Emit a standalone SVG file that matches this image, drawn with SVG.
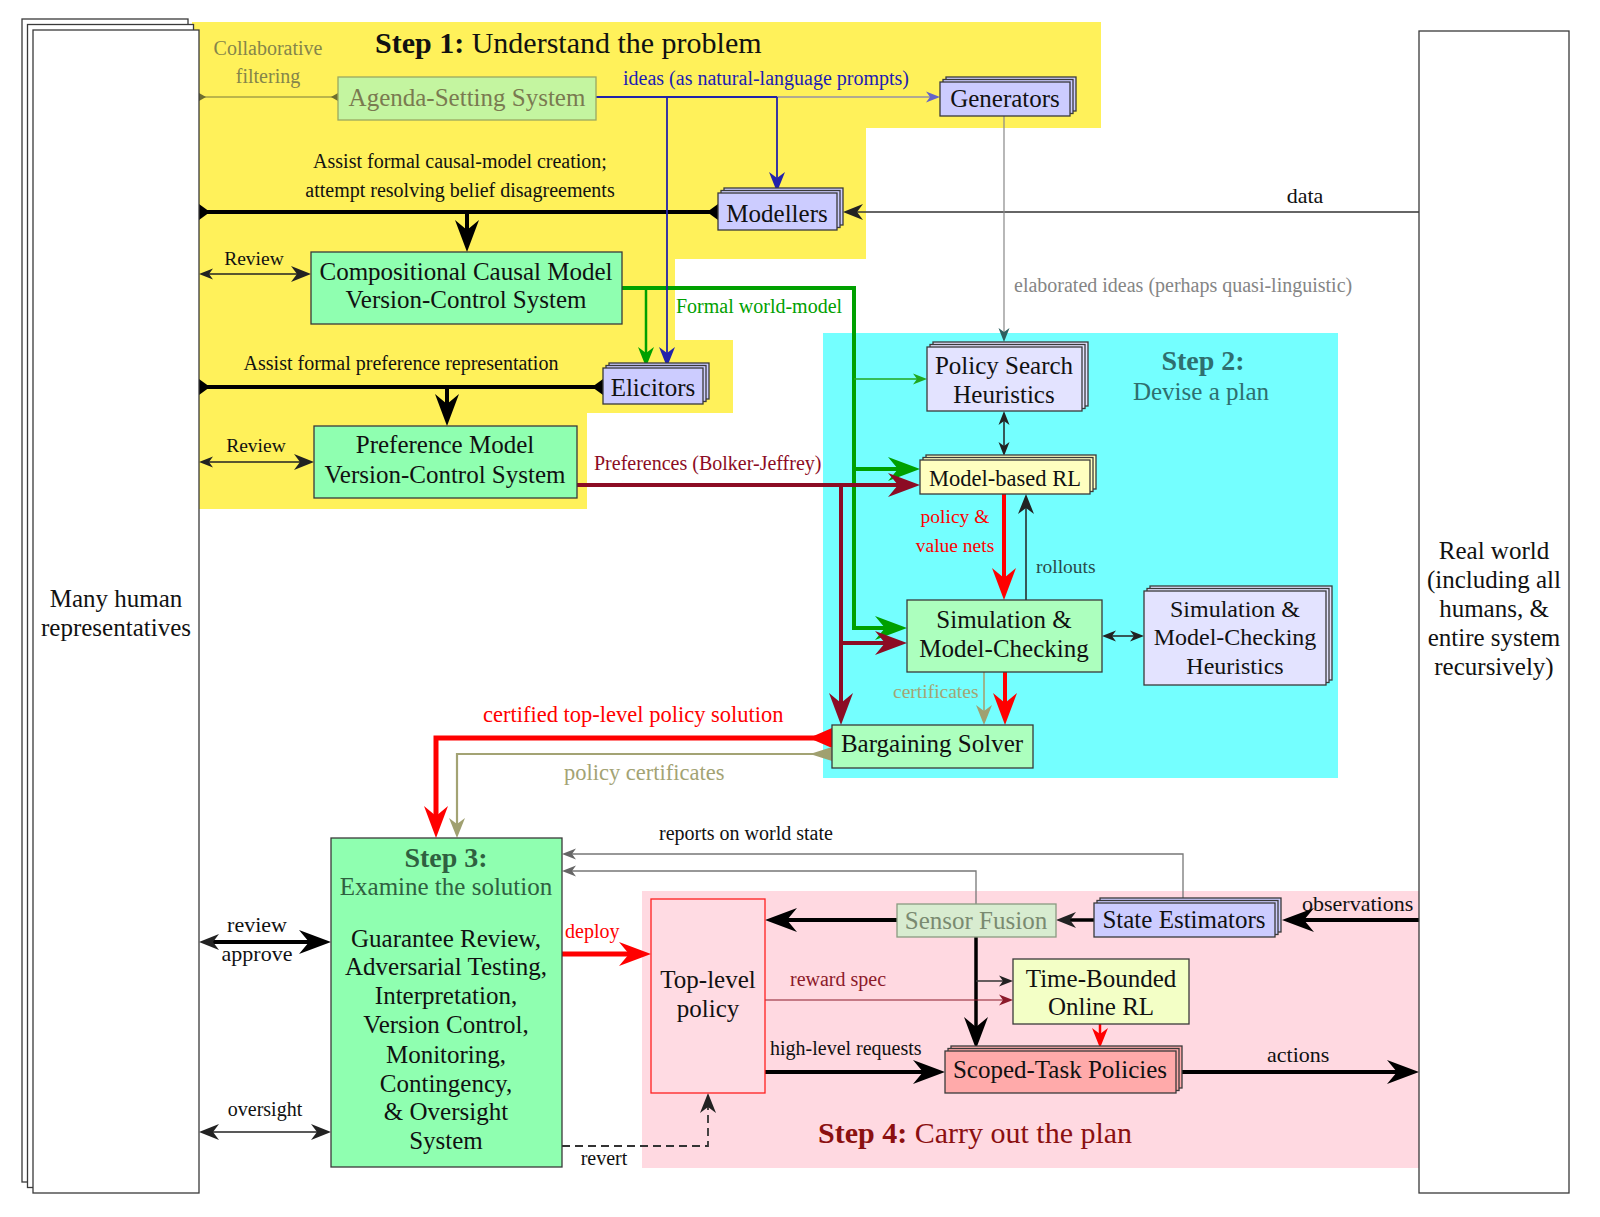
<svg xmlns="http://www.w3.org/2000/svg" width="1600" height="1217" viewBox="0 0 1600 1217">
<style>
text{font-family:"Liberation Serif","Times New Roman",serif;fill:#111}
.c{text-anchor:middle}
.b{font-weight:bold}
.f19{font-size:19.5px}.f20{font-size:20px}.f22{font-size:22px}.f225{font-size:22.5px}.f24{font-size:24px}.f25{font-size:25px}.f28{font-size:28px}.f30{font-size:30px}
.box{stroke:#3a3a3a;stroke-width:1.3}
.wh{fill:#fff}.lav{fill:#ccccff}.lav2{fill:#e3e3ff}.mint{fill:#8fffb0}.mint2{fill:#acffbe}.yel{fill:#ffffc0}.tb{fill:#f3ffc6}.sal{fill:#ffaaaa}
.ln{fill:none}
.k4{stroke:#000;stroke-width:4}
.k1{stroke:#222;stroke-width:1.5}
</style>
<defs>
<marker id="bigK" markerUnits="userSpaceOnUse" viewBox="-40 -20 80 40" markerWidth="80" markerHeight="40" refX="0" refY="0" orient="auto-start-reverse" overflow="visible"><path d="M22,0 L-10,-12 L0,0 L-10,12 Z" fill="#000"/></marker>
<marker id="bigR" markerUnits="userSpaceOnUse" viewBox="-40 -20 80 40" markerWidth="80" markerHeight="40" refX="0" refY="0" orient="auto-start-reverse" overflow="visible"><path d="M22,0 L-10,-12 L0,0 L-10,12 Z" fill="#ff0000"/></marker>
<marker id="bigD" markerUnits="userSpaceOnUse" viewBox="-40 -20 80 40" markerWidth="80" markerHeight="40" refX="0" refY="0" orient="auto-start-reverse" overflow="visible"><path d="M22,0 L-10,-12 L0,0 L-10,12 Z" fill="#8c0c24"/></marker>
<marker id="bigG" markerUnits="userSpaceOnUse" viewBox="-40 -20 80 40" markerWidth="80" markerHeight="40" refX="0" refY="0" orient="auto-start-reverse" overflow="visible"><path d="M22,0 L-10,-12 L0,0 L-10,12 Z" fill="#00a000"/></marker>
<marker id="medK" markerUnits="userSpaceOnUse" viewBox="-40 -20 80 40" markerWidth="80" markerHeight="40" refX="0" refY="0" orient="auto-start-reverse" overflow="visible"><path d="M14,0 L-6,-8 L0,0 L-6,8 Z" fill="#222"/></marker>
<marker id="medB" markerUnits="userSpaceOnUse" viewBox="-40 -20 80 40" markerWidth="80" markerHeight="40" refX="0" refY="0" orient="auto-start-reverse" overflow="visible"><path d="M14,0 L-6,-8 L0,0 L-6,8 Z" fill="#2222aa"/></marker>
<marker id="medG" markerUnits="userSpaceOnUse" viewBox="-40 -20 80 40" markerWidth="80" markerHeight="40" refX="0" refY="0" orient="auto-start-reverse" overflow="visible"><path d="M14,0 L-6,-8 L0,0 L-6,8 Z" fill="#00a000"/></marker>
<marker id="medO" markerUnits="userSpaceOnUse" viewBox="-40 -20 80 40" markerWidth="80" markerHeight="40" refX="0" refY="0" orient="auto-start-reverse" overflow="visible"><path d="M14,0 L-6,-8 L0,0 L-6,8 Z" fill="#a0a070"/></marker>
<marker id="medR" markerUnits="userSpaceOnUse" viewBox="-40 -20 80 40" markerWidth="80" markerHeight="40" refX="0" refY="0" orient="auto-start-reverse" overflow="visible"><path d="M14,0 L-6,-8 L0,0 L-6,8 Z" fill="#ff0000"/></marker>
<marker id="smK" markerUnits="userSpaceOnUse" viewBox="-40 -20 80 40" markerWidth="80" markerHeight="40" refX="0" refY="0" orient="auto-start-reverse" overflow="visible"><path d="M10,0 L-4,-5.5 L0,0 L-4,5.5 Z" fill="#222"/></marker>
<marker id="smB" markerUnits="userSpaceOnUse" viewBox="-40 -20 80 40" markerWidth="80" markerHeight="40" refX="0" refY="0" orient="auto-start-reverse" overflow="visible"><path d="M10,0 L-4,-5.5 L0,0 L-4,5.5 Z" fill="#6464c8"/></marker>
<marker id="smG" markerUnits="userSpaceOnUse" viewBox="-40 -20 80 40" markerWidth="80" markerHeight="40" refX="0" refY="0" orient="auto-start-reverse" overflow="visible"><path d="M10,0 L-4,-5.5 L0,0 L-4,5.5 Z" fill="#20a820"/></marker>
<marker id="smT" markerUnits="userSpaceOnUse" viewBox="-40 -20 80 40" markerWidth="80" markerHeight="40" refX="0" refY="0" orient="auto-start-reverse" overflow="visible"><path d="M10,0 L-4,-5.5 L0,0 L-4,5.5 Z" fill="#2d6060"/></marker>
<marker id="smD" markerUnits="userSpaceOnUse" viewBox="-40 -20 80 40" markerWidth="80" markerHeight="40" refX="0" refY="0" orient="auto-start-reverse" overflow="visible"><path d="M10,0 L-4,-5.5 L0,0 L-4,5.5 Z" fill="#8c1a2a"/></marker>
<marker id="smGr" markerUnits="userSpaceOnUse" viewBox="-40 -20 80 40" markerWidth="80" markerHeight="40" refX="0" refY="0" orient="auto-start-reverse" overflow="visible"><path d="M10,0 L-4,-5.5 L0,0 L-4,5.5 Z" fill="#666"/></marker>
<marker id="revK" markerUnits="userSpaceOnUse" viewBox="-40 -20 80 40" markerWidth="80" markerHeight="40" refX="0" refY="0" orient="auto-start-reverse" overflow="visible"><path d="M0,-8 L0,8 L-11,0 Z" fill="#000"/></marker>
<marker id="revR" markerUnits="userSpaceOnUse" viewBox="-40 -20 80 40" markerWidth="80" markerHeight="40" refX="0" refY="0" orient="auto-start-reverse" overflow="visible"><path d="M0,-10 L0,10 L-23,0 Z" fill="#ff0000"/></marker>
<marker id="revO" markerUnits="userSpaceOnUse" viewBox="-40 -20 80 40" markerWidth="80" markerHeight="40" refX="0" refY="0" orient="auto-start-reverse" overflow="visible"><path d="M0,-7 L0,7 L-22,0 Z" fill="#a0a070"/></marker>
<marker id="revOl" markerUnits="userSpaceOnUse" viewBox="-40 -20 80 40" markerWidth="80" markerHeight="40" refX="0" refY="0" orient="auto-start-reverse" overflow="visible"><path d="M0,-4 L0,4 L-7,0 Z" fill="#6e6e30"/></marker>
</defs>

<g id="regions">
<path id="step1-region" d="M192,22 H1101 V128 H866 V259 H675 V340 H733 V413 H587 V509 H192 Z" fill="#fff15a"/>
<rect id="step2-region" x="823" y="333" width="515" height="445" fill="#74ffff"/>
<rect id="step4-region" x="642" y="891" width="777" height="277" fill="#ffd9e1"/>
</g>

<g id="connectors" class="ln">
<path d="M199,97 H338" stroke="#7a7a3a" stroke-width="1.2" marker-start="url(#revOl)" marker-end="url(#revOl)"/>
<path d="M718,212 H199" class="k4" marker-start="url(#revK)" marker-end="url(#revK)"/>
<path d="M467,212 V230" class="k4" marker-end="url(#bigK)"/>
<path d="M1419,212 H857" stroke="#333" stroke-width="1.6" marker-end="url(#medK)"/>
<path d="M209,274 H297" class="k1" marker-start="url(#smK)" marker-end="url(#medK)"/>
<path d="M209,462 H300" class="k1" marker-start="url(#smK)" marker-end="url(#medK)"/>
<path d="M622,288 H854 V628 H885" stroke="#00a000" stroke-width="4" marker-end="url(#bigG)"/>
<path d="M854,469 H898" stroke="#00a000" stroke-width="4" marker-end="url(#bigG)"/>
<path d="M854,379 H917" stroke="#20a820" stroke-width="1.3" marker-end="url(#smG)"/>
<path d="M646,288 V353" stroke="#00a000" stroke-width="2.5" marker-end="url(#medG)"/>
<path d="M596,97 H777" stroke="#2222aa" stroke-width="1.8"/>
<path d="M777,97 H930" stroke="#6464c8" stroke-width="1.2" marker-end="url(#smB)"/>
<path d="M777,97 V178" stroke="#2222aa" stroke-width="1.8" marker-end="url(#medB)"/>
<path d="M667,97 V353" stroke="#2222aa" stroke-width="1.8" marker-end="url(#medB)"/>
<path d="M603,387 H199" class="k4" marker-start="url(#revK)" marker-end="url(#revK)"/>
<path d="M447,387 V404" class="k4" marker-end="url(#bigK)"/>
<path d="M577,485 H898" stroke="#8c0c24" stroke-width="4" marker-end="url(#bigD)"/>
<path d="M841,485 V703" stroke="#8c0c24" stroke-width="4" marker-end="url(#bigD)"/>
<path d="M841,643 H885" stroke="#8c0c24" stroke-width="4" marker-end="url(#bigD)"/>
<path d="M1004,116 V332" stroke="#888" stroke-width="1.2" marker-end="url(#smT)"/>
<path d="M1004,421 V446" class="k1" marker-start="url(#smK)" marker-end="url(#smK)"/>
<path d="M1004,494 V578" stroke="#ff0000" stroke-width="4" marker-end="url(#bigR)"/>
<path d="M1026,600 V508" class="k1" marker-end="url(#medK)"/>
<path d="M1112,636 H1134" class="k1" marker-start="url(#smK)" marker-end="url(#smK)"/>
<path d="M1005,672 V703" stroke="#ff0000" stroke-width="4" marker-end="url(#bigR)"/>
<path d="M984,672 V711" stroke="#a3a374" stroke-width="1.6" marker-end="url(#medO)"/>
<path d="M832,738 H436 V816" stroke="#ff0000" stroke-width="5" marker-start="url(#revR)" marker-end="url(#bigR)"/>
<path d="M832,754 H457 V824" stroke="#a3a374" stroke-width="2.2" marker-start="url(#revO)" marker-end="url(#medO)"/>
<path d="M1183,899 V854 H572" stroke="#777" stroke-width="1.3" marker-end="url(#smGr)"/>
<path d="M976,904 V871 H572" stroke="#777" stroke-width="1.3" marker-end="url(#smGr)"/>
<path d="M897,920 H787" class="k4" marker-end="url(#bigK)"/>
<path d="M1094,920 H1070" stroke="#000" stroke-width="3.5" marker-end="url(#medK)"/>
<path d="M1419,920 H1304" class="k4" marker-end="url(#bigK)"/>
<path d="M976,937 V1027" stroke="#000" stroke-width="3.5" marker-end="url(#bigK)"/>
<path d="M976,981 H1003" stroke="#333" stroke-width="1.5" marker-end="url(#smK)"/>
<path d="M765,1000 H1003" stroke="#8c1a2a" stroke-width="1.2" marker-end="url(#smD)"/>
<path d="M1100,1024 V1034" stroke="#ff0000" stroke-width="2.5" marker-end="url(#medR)"/>
<path d="M765,1072 H923" class="k4" marker-end="url(#bigK)"/>
<path d="M1182,1072 H1397" class="k4" marker-end="url(#bigK)"/>
<path d="M562,954 H629" stroke="#ff0000" stroke-width="5" marker-end="url(#bigR)"/>
<path d="M213,942 H309" class="k4" marker-start="url(#medK)" marker-end="url(#bigK)"/>
<path d="M213,1132 H317" class="k1" marker-start="url(#medK)" marker-end="url(#medK)"/>
<path d="M562,1146 H708 V1107" stroke="#333" stroke-width="1.8" stroke-dasharray="8,5" marker-end="url(#medK)"/>
</g>

<g id="edge-labels">
<text x="268" y="55" class="c f20" style="fill:#85854a">Collaborative</text>
<text x="268" y="83" class="c f20" style="fill:#85854a">filtering</text>
<text x="623" y="85" class="f20" style="fill:#1c1cb4">ideas (as natural-language prompts)</text>
<text x="460" y="168" class="c f20">Assist formal causal-model creation;</text>
<text x="460" y="197" class="c f20">attempt resolving belief disagreements</text>
<text x="1305" y="203" class="c f22">data</text>
<text x="254" y="265" class="c f19">Review</text>
<text x="1014" y="292" class="f20" style="fill:#858585">elaborated ideas (perhaps quasi-linguistic)</text>
<text x="676" y="313" class="f20" style="fill:#00a000">Formal world-model</text>
<text x="401" y="370" class="c f20">Assist formal preference representation</text>
<text x="256" y="452" class="c f19">Review</text>
<text x="594" y="470" class="f20" style="fill:#8c0c24">Preferences (Bolker-Jeffrey)</text>
<text x="955" y="523" class="c f19" style="fill:#ff0000">policy &amp;</text>
<text x="955" y="552" class="c f19" style="fill:#ff0000">value nets</text>
<text x="1036" y="573" class="f19" style="fill:#2a4a4a">rollouts</text>
<text x="893" y="698" class="f19" style="fill:#a4a474">certificates</text>
<text x="483" y="722" class="f225" style="fill:#ff0000">certified top-level policy solution</text>
<text x="564" y="780" class="f225" style="fill:#a3a374">policy certificates</text>
<text x="659" y="840" class="f20">reports on world state</text>
<text x="257" y="932" class="c f22">review</text>
<text x="257" y="961" class="c f22">approve</text>
<text x="565" y="938" class="f20" style="fill:#ff0000">deploy</text>
<text x="1302" y="911" class="f22">observations</text>
<text x="790" y="986" class="f20" style="fill:#8c1a2a">reward spec</text>
<text x="770" y="1055" class="f20">high-level requests</text>
<text x="1267" y="1062" class="f22">actions</text>
<text x="265" y="1116" class="c f20">oversight</text>
<text x="604" y="1165" class="c f20">revert</text>
</g>

<g id="step-labels">
<text x="375" y="53" class="f30"><tspan class="b">Step 1:</tspan> Understand the problem</text>
<text x="1203" y="370" class="c f28 b" style="fill:#2f6f6f">Step 2:</text>
<text x="1201" y="400" class="c f25" style="fill:#2f6f6f">Devise a plan</text>
<text x="818" y="1143" class="f30" style="fill:#8b1010"><tspan class="b">Step 4:</tspan> Carry out the plan</text>
</g>

<g id="humans">
<rect x="22" y="19" width="166" height="1163" class="box wh"/>
<rect x="27.5" y="24.5" width="166" height="1163" class="box wh"/>
<rect x="33" y="30" width="166" height="1163" class="box wh"/>
<text x="116" y="607" class="c f25">Many human</text>
<text x="116" y="636" class="c f25">representatives</text>
</g>

<g id="real-world">
<rect x="1419" y="31" width="150" height="1162" class="box wh"/>
<text x="1494" y="559" class="c f25">Real world</text>
<text x="1494" y="588" class="c f25">(including all</text>
<text x="1494" y="617" class="c f25">humans, &amp;</text>
<text x="1494" y="646" class="c f25">entire system</text>
<text x="1494" y="675" class="c f25">recursively)</text>
</g>

<g id="agenda">
<rect x="338" y="77" width="258" height="43" fill="#c4f5a0" stroke="#9aa860" stroke-width="1.3"/>
<text x="467" y="106" class="c f25" style="fill:#7a7a50">Agenda-Setting System</text>
</g>

<g id="generators">
<rect x="946" y="77" width="130" height="34" class="box lav"/>
<rect x="943" y="79.5" width="130" height="34" class="box lav"/>
<rect x="940" y="82" width="130" height="34" class="box lav"/>
<text x="1005" y="107" class="c f25">Generators</text>
</g>

<g id="modellers">
<rect x="724" y="188" width="119" height="37" class="box lav"/>
<rect x="721" y="190.5" width="119" height="37" class="box lav"/>
<rect x="718" y="193" width="119" height="37" class="box lav"/>
<text x="777" y="222" class="c f25">Modellers</text>
</g>

<g id="causal-model-vcs">
<rect x="311" y="252" width="311" height="72" class="box mint"/>
<text x="466" y="280" class="c f25">Compositional Causal Model</text>
<text x="466" y="308" class="c f25">Version-Control System</text>
</g>

<g id="elicitors">
<rect x="609" y="363" width="100" height="36" class="box lav"/>
<rect x="606" y="365.5" width="100" height="36" class="box lav"/>
<rect x="603" y="368" width="100" height="36" class="box lav"/>
<text x="653" y="396" class="c f25">Elicitors</text>
</g>

<g id="preference-model-vcs">
<rect x="314" y="426" width="263" height="72" class="box mint"/>
<text x="445" y="453" class="c f25">Preference Model</text>
<text x="445" y="483" class="c f25">Version-Control System</text>
</g>

<g id="policy-search-heuristics">
<rect x="933" y="342" width="155" height="64" class="box lav2"/>
<rect x="930" y="344.5" width="155" height="64" class="box lav2"/>
<rect x="927" y="347" width="155" height="64" class="box lav2"/>
<text x="1004" y="374" class="c f25">Policy Search</text>
<text x="1004" y="403" class="c f25">Heuristics</text>
</g>

<g id="model-based-rl">
<rect x="926" y="455" width="170" height="34" class="box yel"/>
<rect x="923" y="457.5" width="170" height="34" class="box yel"/>
<rect x="920" y="460" width="170" height="34" class="box yel"/>
<text x="1005" y="486" class="c f225">Model-based RL</text>
</g>

<g id="simulation-model-checking">
<rect x="907" y="600" width="195" height="72" class="box mint2"/>
<text x="1004" y="628" class="c f25">Simulation &amp;</text>
<text x="1004" y="657" class="c f25">Model-Checking</text>
</g>

<g id="smc-heuristics">
<rect x="1150" y="586" width="182" height="94" class="box lav2"/>
<rect x="1147" y="588.5" width="182" height="94" class="box lav2"/>
<rect x="1144" y="591" width="182" height="94" class="box lav2"/>
<text x="1235" y="617" class="c f24">Simulation &amp;</text>
<text x="1235" y="645" class="c f24">Model-Checking</text>
<text x="1235" y="674" class="c f24">Heuristics</text>
</g>

<g id="bargaining-solver">
<rect x="832" y="725" width="201" height="43" class="box mint2"/>
<text x="932" y="752" class="c f25">Bargaining Solver</text>
</g>

<g id="step3-examine">
<rect x="331" y="838" width="231" height="329" class="box mint"/>
<text x="446" y="867" class="c f28 b" style="fill:#2f6040">Step 3:</text>
<text x="446" y="895" class="c f25" style="fill:#2f6040">Examine the solution</text>
<text x="446" y="947" class="c f25">Guarantee Review,</text>
<text x="446" y="975" class="c f25">Adversarial Testing,</text>
<text x="446" y="1004" class="c f25">Interpretation,</text>
<text x="446" y="1033" class="c f25">Version Control,</text>
<text x="446" y="1063" class="c f25">Monitoring,</text>
<text x="446" y="1092" class="c f25">Contingency,</text>
<text x="446" y="1120" class="c f25">&amp; Oversight</text>
<text x="446" y="1149" class="c f25">System</text>
</g>

<g id="top-level-policy">
<rect x="651" y="899" width="114" height="194" fill="#ffdbe3" stroke="#ff2020" stroke-width="1.3"/>
<text x="708" y="988" class="c f25">Top-level</text>
<text x="708" y="1017" class="c f25">policy</text>
</g>

<g id="sensor-fusion">
<rect x="897" y="904" width="159" height="33" fill="#d8ecd0" stroke="#8a9a80" stroke-width="1.3"/>
<text x="976" y="929" class="c f25" style="fill:#7a8a70">Sensor Fusion</text>
</g>

<g id="state-estimators">
<rect x="1100" y="898" width="181" height="34" class="box lav"/>
<rect x="1097" y="900.5" width="181" height="34" class="box lav"/>
<rect x="1094" y="903" width="181" height="34" class="box lav"/>
<text x="1184" y="928" class="c f25">State Estimators</text>
</g>

<g id="time-bounded-online-rl">
<rect x="1013" y="959" width="176" height="65" class="box tb"/>
<text x="1101" y="987" class="c f25">Time-Bounded</text>
<text x="1101" y="1015" class="c f25">Online RL</text>
</g>

<g id="scoped-task-policies">
<rect x="951" y="1046" width="231" height="42" class="box sal"/>
<rect x="948" y="1048.5" width="231" height="42" class="box sal"/>
<rect x="945" y="1051" width="231" height="42" class="box sal"/>
<text x="1060" y="1078" class="c f25">Scoped-Task Policies</text>
</g>
</svg>
